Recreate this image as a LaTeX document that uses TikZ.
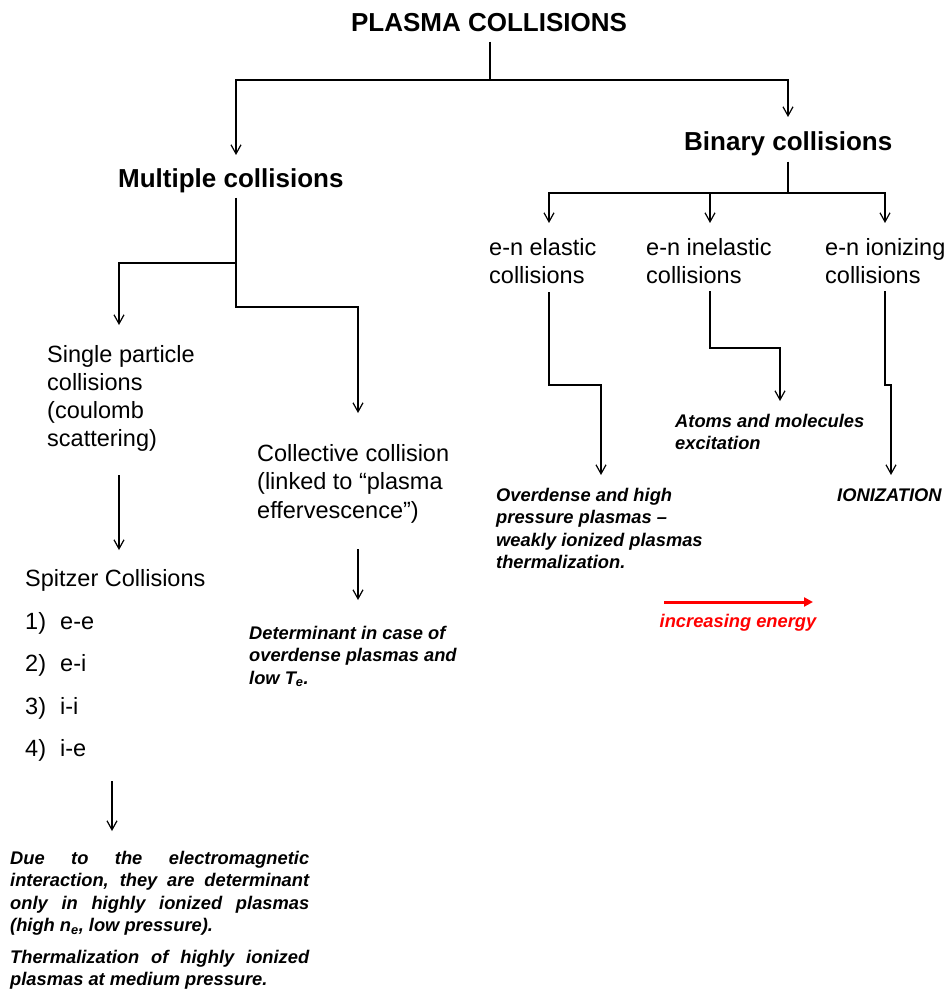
\documentclass[tikz,border=0pt]{standalone}
\usepackage{fontspec}
\setmainfont{Liberation Sans}
\usetikzlibrary{arrows.meta}
\newcommand\lns[1]{\vtop{\halign{##\hfil\cr#1\crcr}}}
\begin{document}
\begin{tikzpicture}[x=1pt,y=-1pt,
  line/.style={line width=1.2pt, draw=black},
  arr/.style={line, -{Straight Barb[length=9pt,width=10pt]}},
  hd/.style={font=\fontsize{26}{31}\selectfont\bfseries, anchor=base west, inner sep=0pt},
  tx/.style={font=\fontsize{23.5}{28.3}\selectfont, anchor=base west, inner sep=0pt},
  bi/.style={font=\fontsize{18.3}{22.3}\selectfont\bfseries\itshape, anchor=base west, inner sep=0pt},
  redarr/.style={draw=red, line width=3pt, -{Triangle[length=9pt,width=9pt]}}
]
\useasboundingbox (0,0) rectangle (945,992);

% headings
\node[hd, anchor=base] (title) at (489,31.5) {PLASMA COLLISIONS};
\node[hd] (multi) at (118,188) {Multiple collisions};
\node[hd] (binary) at (684,151) {Binary collisions};

% left branch texts
\node[tx] (single) at (47,362) {\lns{Single particle\cr collisions\cr (coulomb\cr scattering)}};
\node[tx] (collective) at (257,461.5) {\lns{Collective collision\cr (linked to “plasma\cr effervescence”)}};
\node[tx, font=\fontsize{23.5}{42.5}\selectfont] (spitzer) at (25,586.5)
  {\lns{Spitzer Collisions\cr \makebox[35pt][l]{1)}e-e\cr \makebox[35pt][l]{2)}e-i\cr \makebox[35pt][l]{3)}i-i\cr \makebox[35pt][l]{4)}i-e}};
\node[bi] (determinant) at (249,639.5) {\lns{Determinant in case of\cr overdense plasmas and\cr low T\textsubscript{e}.}};
\node[bi] (due) at (10,864.5) {\lns{\makebox[299pt][s]{Due to the electromagnetic}\cr
  \makebox[299pt][s]{interaction, they are determinant}\cr
  \makebox[299pt][s]{only in highly ionized plasmas}\cr
  (high n\textsubscript{e}, low pressure).}};
\node[bi] (therm) at (10,963.5) {\lns{\makebox[299pt][s]{Thermalization of highly ionized}\cr
  plasmas at medium pressure.}};

% right branch texts
\node[tx] (elastic) at (489,255) {\lns{e-n elastic\cr collisions}};
\node[tx] (inelastic) at (646,255) {\lns{e-n inelastic\cr collisions}};
\node[tx] (ionizing) at (825,255) {\lns{e-n ionizing\cr collisions}};
\node[bi] (atoms) at (675,427) {\lns{Atoms and molecules\cr excitation}};
\node[bi] (overdense) at (496,501.5) {\lns{Overdense and high\cr pressure plasmas –\cr weakly ionized plasmas\cr thermalization.}};
\node[bi] (ionization) at (837,501.5) {IONIZATION};
\node[bi, text=red, anchor=base] (energy) at (738,627) {increasing energy};

% connector coordinates
\coordinate (tstem) at (490,42);
\coordinate (multtip) at (236,155);
\coordinate (bintip) at (788,117);
\coordinate (bstem) at (788,162);
\coordinate (elt) at (549,223);
\coordinate (inlt) at (710,223);
\coordinate (iont) at (885,223);
\coordinate (mstem) at (236,198);
\coordinate (singtip) at (119,325);
\coordinate (colltip) at (358,413);
\coordinate (s0) at (119,475);
\coordinate (s1) at (119,550);
\coordinate (c0) at (358,549);
\coordinate (c1) at (358,600);
\coordinate (p0) at (112,781);
\coordinate (p1) at (112,831);
\coordinate (el0) at (549,292);
\coordinate (el1) at (601,475);
\coordinate (in0) at (710,291);
\coordinate (in1) at (780,401);
\coordinate (io0) at (885,291);
\coordinate (io1) at (891,475);
\coordinate (e0) at (664,602);
\coordinate (e1) at (813,602);

% connectors
\draw[arr] (tstem) -- ++(0,38) -| (multtip);
\draw[arr] (tstem) -- ++(0,38) -| (bintip);
\draw[arr] (bstem) -- ++(0,31) -| (elt);
\draw[arr] (bstem) -- ++(0,31) -| (inlt);
\draw[arr] (bstem) -- ++(0,31) -| (iont);
\draw[arr] (mstem) -- ++(0,65) -| (singtip);
\draw[arr] (mstem) -- ++(0,109) -| (colltip);
\draw[arr] (s0) -- (s1);
\draw[arr] (c0) -- (c1);
\draw[arr] (p0) -- (p1);
\draw[arr] (el0) -- ++(0,93) -| (el1);
\draw[arr] (in0) -- ++(0,57) -| (in1);
\draw[arr] (io0) -- ++(0,94) -| (io1);
\draw[redarr] (e0) -- (e1);
\end{tikzpicture}
\end{document}
